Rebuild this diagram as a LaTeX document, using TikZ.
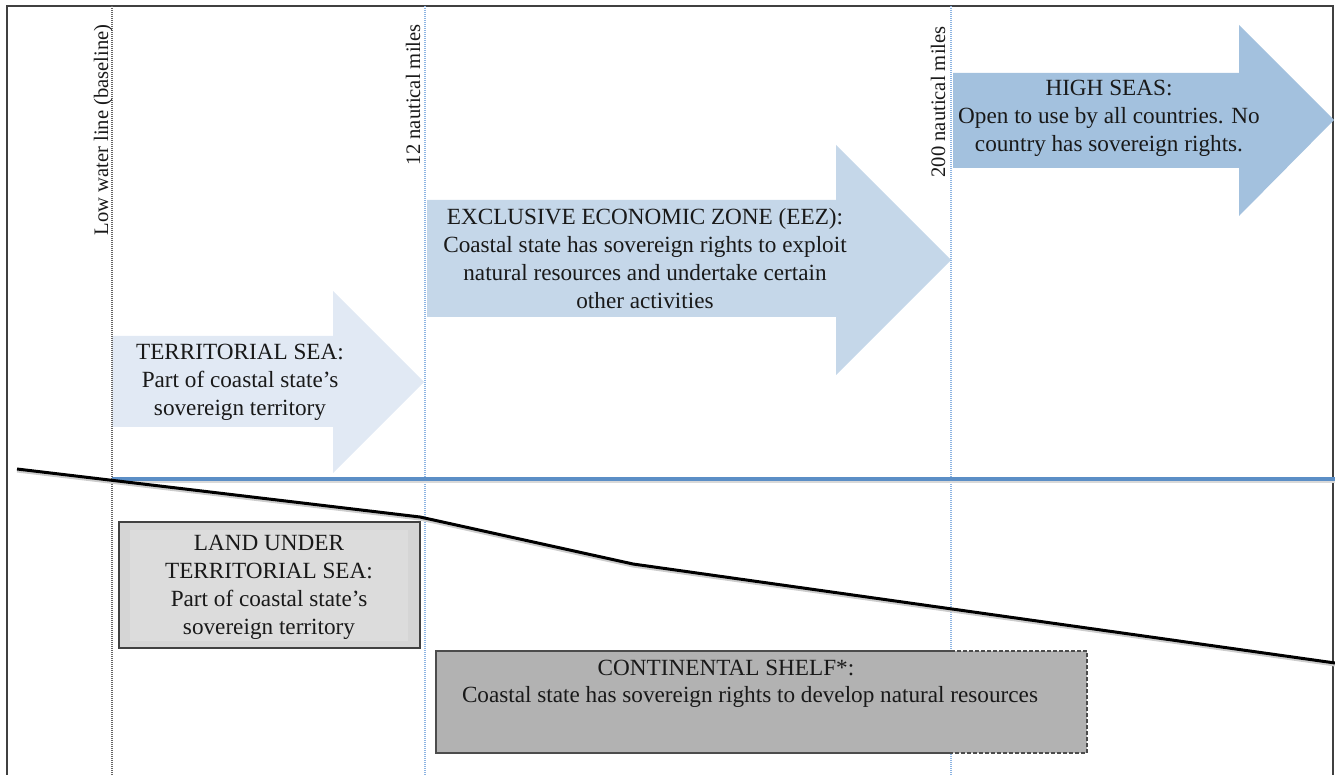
\documentclass[tikz,border=0pt]{standalone}
\usepackage{fontspec}
\setmainfont{Liberation Serif}

\definecolor{tsfill}{HTML}{E1E9F4}
\definecolor{eezfill}{HTML}{C5D7E9}
\definecolor{hsfill}{HTML}{A3C1DE}
\definecolor{sealine}{HTML}{5B8EC6}
\definecolor{nmline}{HTML}{8DB4E2}
\definecolor{landfill}{HTML}{D5D5D5}
\definecolor{landinner}{HTML}{DCDCDC}
\definecolor{shelffill}{HTML}{B2B2B2}

\begin{document}
\begin{tikzpicture}[x=0.5pt, y=-0.5pt,
	zonetext/.style={align=center, inner sep=0pt, text=black!90, font=\fontsize{11.6}{14}\selectfont},
	vlabel/.style={rotate=90, anchor=base east, inner sep=0pt, text=black!90, font=\fontsize{10.3}{12}\selectfont},
	limit/.style={line width=0.6pt, dash pattern=on 0.5pt off 0.5pt},
	frameline/.style={draw=black!75, line width=0.6pt},
	]

	\useasboundingbox (0,0) rectangle (1335,775);
	\draw[frameline] (7,775) -- (7,6) -- (1333,6) -- (1333,775);

	% zone arrows
	\fill[tsfill] (112,336) -- (333,336) -- (333,291) -- (424,382) -- (333,473) -- (333,427) -- (112,427) -- cycle;
	\fill[eezfill] (427,200) -- (836,200) -- (836,145) -- (951,260) -- (836,375) -- (836,317) -- (427,317) -- cycle;
	\fill[hsfill] (953,73) -- (1239,73) -- (1239,25) -- (1334,120) -- (1239,216) -- (1239,168) -- (953,168) -- cycle;

	% limits
	\draw[limit, black!60] (112,6) -- (112,775);
	\draw[limit, nmline] (425,6) -- (425,775);
	\draw[limit, nmline] (951,6) -- (951,775);

	\node[vlabel] (baseline) at (108,24) {Low water line (baseline)};
	\node[vlabel] (nm12) at (420,24) {12 nautical miles};
	\node[vlabel] (nm200) at (945,26) {200 nautical miles};

	\node[zonetext] (terrsea) at (240,382) {TERRITORIAL SEA:\\Part of coastal state’s\\sovereign territory};
	\node[zonetext] (eez) at (645,259) {EXCLUSIVE ECONOMIC ZONE (EEZ):\\Coastal state has sovereign rights to exploit\\natural resources and undertake certain\\other activities};
	\node[zonetext] (highseas) at (1109,118) {HIGH SEAS:\\Open to use by all countries. No\\country has sovereign rights.};

	% sea surface and sea bed
	\draw[line width=1.5pt, black!15] (112,482) -- (1335,482);
	\draw[line width=1.6pt, sealine] (112,479) -- (1335,479);

	\coordinate (bed0) at (17,469);
	\coordinate (bed1) at (420,517);
	\coordinate (bed2) at (633,564);
	\coordinate (bed3) at (1335,663);
	\draw[line width=1.5pt, black!20] ([yshift=-1pt]bed0) -- ([yshift=-1pt]bed1) -- ([yshift=-1pt]bed2) -- ([yshift=-1pt]bed3);
	\draw[line width=1.5pt, line join=round] (bed0) -- (bed1) -- (bed2) -- (bed3);

	% land under territorial sea
	\draw[fill=landfill, draw=black!75, line width=0.8pt] (119,522) rectangle (420,648);
	\fill[landinner] (130,530) rectangle (408,641);
	\node[zonetext] (land) at (269,587) {LAND UNDER\\TERRITORIAL SEA:\\Part of coastal state’s\\sovereign territory};

	% continental shelf
	\fill[shelffill] (436,651) rectangle (1087,753);
	\draw[draw=black!70, line width=0.8pt] (951,651) -| (436,753) -- (951,753);
	\draw[draw=black!70, line width=0.6pt, dash pattern=on 2pt off 1pt] (951,651) -| (1087,753) -- (951,753);
	\node[zonetext] (shelftitle) at (726,668) {CONTINENTAL SHELF*:};
	\node[zonetext] (shelftext) at (750,697) {Coastal state has sovereign rights to develop natural resources};

\end{tikzpicture}
\end{document}
